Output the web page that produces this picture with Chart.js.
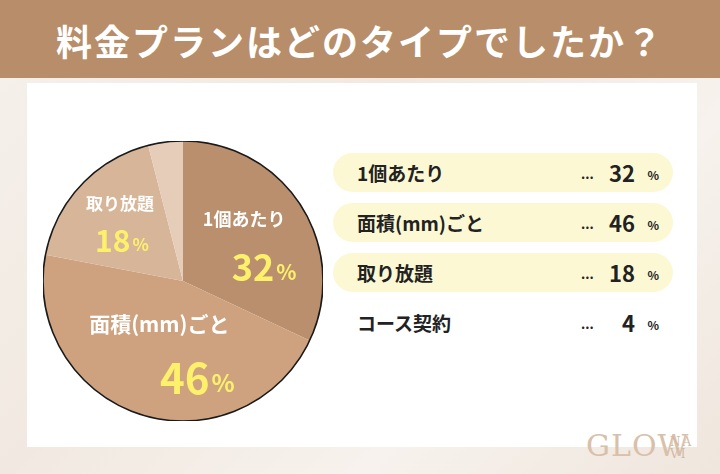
<!DOCTYPE html>
<html lang="ja">
<head>
<meta charset="utf-8">
<script src="https://cdn.jsdelivr.net/npm/chart.js@4.4.0/dist/chart.umd.min.js"></script>
<style>
  html, body { margin: 0; padding: 0; }
  body {
    width: 720px; height: 474px; position: relative; overflow: hidden;
    font-family: "Noto Sans CJK JP", "Noto Sans", sans-serif;
    background: linear-gradient(135deg, #f6f1ec 0%, #f1e9e1 40%, #f7f2ed 70%, #efe6dd 100%);
  }
  #title-bar {
    position: absolute; left: 0; top: 0; width: 720px; height: 78px;
    background: #b88d69; color: #fff; font-weight: 700; font-size: 36px;
    text-align: center; line-height: 80px; letter-spacing: 2px;
  }
  #panel {
    position: absolute; left: 27px; top: 83px; width: 670px; height: 364px;
    background: #fff;
  }
  #pie-wrap { position: absolute; left: 43px; top: 141px; width: 280px; height: 280px; }
  #list { position: absolute; left: 333px; top: 153px; width: 340px; }
  .row {
    position: relative; height: 39px; margin-bottom: 11px; border-radius: 20px;
    color: #222; font-weight: 700;
  }
  .row.hl { background: #fdf8d4; }
  .row .name { position: absolute; left: 24px; top: 0; line-height: 39px; font-size: 19px; }
  .row .dots { position: absolute; left: 248px; top: 0; line-height: 42px; font-size: 13px; }
  .row .val { position: absolute; right: 38px; top: 0; line-height: 39px; font-size: 22px; }
  .row .pct { position: absolute; right: 14px; top: 2px; line-height: 39px; font-size: 12px; }
  #logo {
    position: absolute; left: 586px; top: 428px; width: 120px; height: 40px; color: #d8c0aa;
    font-family: "DejaVu Serif", "Liberation Serif", serif;
  }
  #logo .main { position: absolute; left: 0; top: 0; font-size: 30px; line-height: 36px; letter-spacing: 1px; }
  #logo .sub {
    position: absolute; left: 84px; top: 8px;
    font-size: 12px; line-height: 12px; letter-spacing: 2px; color: #d3b9a2;
  }
</style>
</head>
<body>
<div id="title-bar">料金プランはどのタイプでしたか？</div>
<div id="panel"></div>
<div id="pie-wrap"><canvas id="pieChart" width="280" height="280"></canvas></div>
<div id="list"></div>
<div id="logo"><span class="main">GLOW</span><span class="sub">NA<br>VI</span></div>

<script>
// data
const planLabels = ['1個あたり', '面積(mm)ごと', '取り放題', 'コース契約'];
const planValues = [32, 46, 18, 4];
const sliceColors = ['#b98f6e', '#cea27f', '#d7b598', '#e5cdba'];
// slices that get a label on the pie / a highlighted row in the list
const showOnPie = [true, true, true, false];

// label placement on the pie (offsets from the arc centre point, font sizes)
const pieLabelStyle = [
    { nameDx: 2, nameDy: -24, valDx: 22, valDy: 24, nameSize: 18, valSize: 36 },
    { nameDx: -2, nameDy: -24, valDx: 36, valDy: 30, nameSize: 21, valSize: 42 },
    { nameDx: -12, nameDy: -30, valDx: -10, valDy: 8, nameSize: 17, valSize: 30 },
    null
];

const pieLabelsPlugin = {
    id: 'pieLabels',
    afterDatasetsDraw(chart) {
        const ctx = chart.ctx;
        const meta = chart.getDatasetMeta(0);
        const first = meta.data[0];

        // outer outline only
        ctx.save();
        ctx.beginPath();
        ctx.arc(first.x, first.y, first.outerRadius, 0, Math.PI * 2);
        ctx.lineWidth = 1.6;
        ctx.strokeStyle = '#1a1a1a';
        ctx.stroke();
        ctx.restore();

        meta.data.forEach((arc, i) => {
            const st = pieLabelStyle[i];
            if (!showOnPie[i] || !st) return;
            const p = arc.getCenterPoint();
            ctx.save();
            ctx.textAlign = 'center';
            ctx.textBaseline = 'middle';
            ctx.fillStyle = '#ffffff';
            ctx.font = `700 ${st.nameSize}px "Noto Sans CJK JP"`;
            ctx.fillText(planLabels[i], p.x + st.nameDx, p.y + st.nameDy);

            const num = String(chart.data.datasets[0].data[i]);
            ctx.font = `700 ${st.valSize}px "Noto Sans CJK JP"`;
            const numW = ctx.measureText(num).width;
            const pctSize = Math.round(st.valSize * 0.58);
            ctx.font = `700 ${pctSize}px "Noto Sans CJK JP"`;
            const pctW = ctx.measureText('%').width;
            const startX = p.x + st.valDx - (numW + pctW + 2) / 2;
            const y = p.y + st.valDy;
            ctx.textAlign = 'left';
            ctx.fillStyle = '#fdf16c';
            ctx.font = `700 ${st.valSize}px "Noto Sans CJK JP"`;
            ctx.fillText(num, startX, y);
            ctx.font = `700 ${pctSize}px "Noto Sans CJK JP"`;
            ctx.fillText('%', startX + numW + 2, y + st.valSize * 0.12);
            ctx.restore();
        });
    }
};

new Chart(document.getElementById('pieChart').getContext('2d'), {
    type: 'pie',
    data: {
        labels: planLabels,
        datasets: [{ data: planValues, backgroundColor: sliceColors, borderWidth: 0 }]
    },
    options: {
        responsive: false,
        animation: false,
        rotation: 0,
        layout: { padding: 0 },
        plugins: { legend: { display: false }, tooltip: { enabled: false } }
    },
    plugins: [pieLabelsPlugin]
});

// right hand list
const list = document.getElementById('list');
planLabels.forEach((label, i) => {
    const row = document.createElement('div');
    row.className = 'row' + (showOnPie[i] ? ' hl' : '');
    row.innerHTML = `<span class="name">${label}</span><span class="dots">...</span>` +
        `<span class="val">${planValues[i]}</span><span class="pct">%</span>`;
    list.appendChild(row);
});
</script>
</body>
</html>
